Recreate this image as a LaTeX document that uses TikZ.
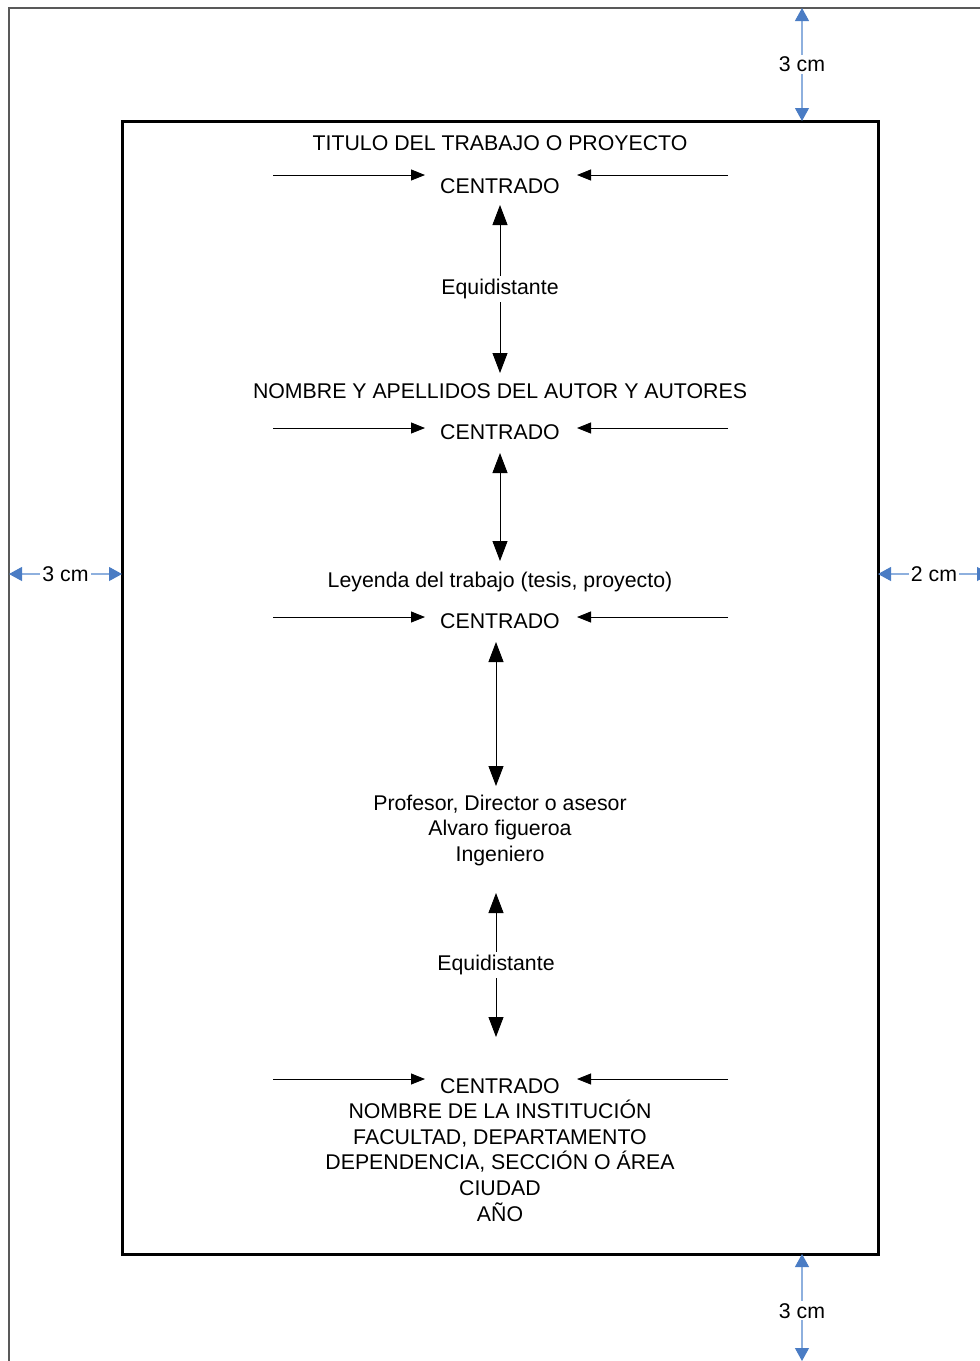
\documentclass[tikz,border=0pt]{standalone}
\usepackage{fontspec}
\setmainfont{Liberation Sans}
\usetikzlibrary{arrows.meta}
\definecolor{dimline}{HTML}{8EB0DE}
\definecolor{dimhead}{HTML}{4A7CC4}
\begin{document}
\begin{tikzpicture}[x=1pt,y=-1pt,
  txt/.style={inner sep=0pt,anchor=base,align=center,font=\fontsize{21.3}{25.5}\selectfont},
  harrow/.style={line width=0.9pt,-{Triangle[length=14pt,width=11pt]}},
  varrow/.style={line width=0.9pt,{Triangle[length=20pt,width=15pt]}-{Triangle[length=20pt,width=15pt]}},
  dim/.style={draw=dimline,line width=1.1pt,{Triangle[length=13pt,width=14pt,color=dimhead]}-{Triangle[length=13pt,width=14pt,color=dimhead]}},
  dimlbl/.style={fill=white,inner sep=2pt,font=\fontsize{21.3}{24}\selectfont},
  elbl/.style={fill=white,inner xsep=2pt,inner ysep=3pt,font=\fontsize{21.3}{24}\selectfont}]
\useasboundingbox (0,0) rectangle (980,1361);
% page edges
\coordinate (pTL) at (9,8);
\coordinate (pTR) at (980,8);
\coordinate (pBL) at (9,1361);
\draw[gray!70!black,line width=1.2pt] (pTR) -- (pTL) -- (pBL);
% text frame
\node[draw,line width=3pt,minimum width=756pt,minimum height=1133pt,inner sep=0pt] (frame) at (500,687.5) {};
% texts
\node[txt] (titulo) at (500,150.5) {TITULO DEL TRABAJO O PROYECTO};
\node[txt] (c1) at (500,193) {CENTRADO};
\node[txt] (autor) at (500,398) {NOMBRE Y APELLIDOS DEL AUTOR Y AUTORES};
\node[txt] (c2) at (500,439.5) {CENTRADO};
\node[txt] (leyenda) at (500,587) {Leyenda del trabajo (tesis, proyecto)};
\node[txt] (c3) at (500,628) {CENTRADO};
\node[txt] (prof) at (500,861) {Profesor, Director o asesor\\Alvaro figueroa\\Ingeniero};
\node[txt,font=\fontsize{21.3}{25.6}\selectfont] (inst) at (500,1221) {CENTRADO\\NOMBRE DE LA INSTITUCIÓN\\FACULTAD, DEPARTAMENTO\\DEPENDENCIA, SECCIÓN O ÁREA\\CIUDAD\\AÑO};
% horizontal centring arrows
\foreach \n/\y in {1/175,2/428,3/617,4/1079}{
  \coordinate (hl\n) at (273,\y); \coordinate (hlt\n) at (425,\y);
  \coordinate (hr\n) at (728,\y); \coordinate (hrt\n) at (577,\y);
  \draw[harrow] (hl\n) -- (hlt\n);
  \draw[harrow] (hr\n) -- (hrt\n);
}
% vertical arrows
\coordinate (v1a) at (500,205); \coordinate (v1b) at (500,373);
\draw[varrow] (v1a) -- node[elbl] (eq1) {Equidistante} (v1b);
\coordinate (v2a) at (500,453); \coordinate (v2b) at (500,561);
\draw[varrow] (v2a) -- (v2b);
\coordinate (v3a) at (496,642); \coordinate (v3b) at (496,786);
\draw[varrow] (v3a) -- (v3b);
\coordinate (v4a) at (496,893); \coordinate (v4b) at (496,1037);
\draw[varrow] (v4a) -- node[elbl] (eq2) {Equidistante} (v4b);
% margin dimensions
\coordinate (dTa) at (802,8); \coordinate (dTb) at (802,121);
\draw[dim] (dTa) -- node[dimlbl] (mTop) {3 cm} (dTb);
\coordinate (dLa) at (9,574); \coordinate (dLb) at (122,574);
\draw[dim] (dLa) -- node[dimlbl] (mLeft) {3 cm} (dLb);
\coordinate (dRa) at (878,574); \coordinate (dRb) at (990,574);
\draw[dim] (dRa) -- node[dimlbl,pos=0.5] (mRight) {2 cm} (dRb);
\coordinate (dBa) at (802,1254); \coordinate (dBb) at (802,1361);
\draw[dim] (dBa) -- node[dimlbl,pos=0.53] (mBot) {3 cm} (dBb);
\end{tikzpicture}
\end{document}
